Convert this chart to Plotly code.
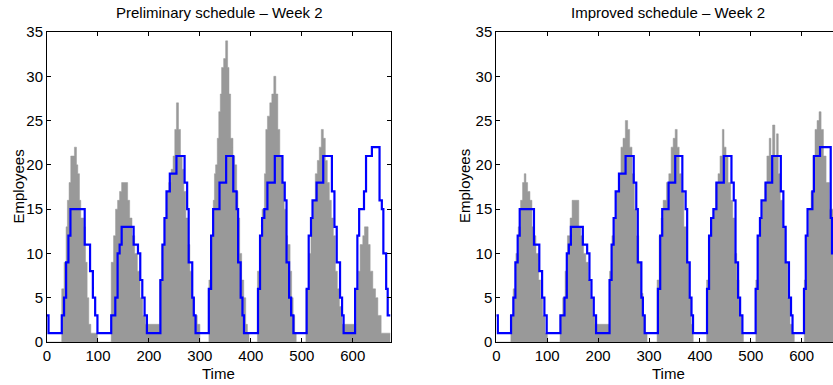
import plotly.graph_objects as go

# ---------------- data ----------------
# Demand (gray histogram), step start times and values — preliminary plot
dem1_t = [0,
          28.9, 33.5, 37.4, 40, 43.3, 46.6, 53.8, 57.8, 60.4, 63.7, 66.3, 72.2, 75.5, 78.8, 82, 86, 99,
          126, 130.6, 134.5, 138.5, 142.4, 146.4, 158.2, 162.2, 166.8, 172, 177.3, 182.5, 187.8, 193,
          221.2, 225.7, 230.3, 234.3, 238.9, 243.5, 247.4, 250.7, 254, 258, 261.9, 265.2, 268.5, 272.4,
          276.4, 280.3, 284.9, 289.5, 294.8, 300,
          317.7, 322.3, 326.2, 328.5, 330.8, 334.1, 337, 340, 342.6, 346.6, 350.5, 354.4, 357.1, 360.3,
          364.9, 368.2, 372.2, 374.8, 378.1, 382, 386, 389.9, 393.2, 396.4,
          412.9, 418.1, 422, 426.6, 429.3, 432.5, 437.1, 441.1, 445, 449, 452.9, 456.8, 460.8, 465.4,
          469, 472, 477, 480, 483, 486, 489,
          508, 513.3, 517.9, 522.5, 526.4, 530.4, 534.3, 538.2, 542.2, 546.1, 550, 554, 557.9, 561.9,
          565.8, 569.7, 573.7, 578.9,
          606.5, 611.1, 614.4, 619.6, 622.9, 630.1, 634.1, 639.3, 644.6, 649.2, 655.7, 674]
dem1_v = [0,
          6, 9, 13, 16, 18, 21, 22, 20, 19, 16, 14, 13, 9, 5, 2, 1, 0,
          9, 12, 15, 16, 17, 18, 16, 14, 12, 10, 8, 5, 3, 2,
          7, 11, 14, 17, 18, 19.5, 21, 24, 27, 24, 21, 19.5, 17, 14,
          11, 8, 5, 3, 2, 0,
          7, 12, 16, 19, 20, 23, 26, 28, 31, 32, 34, 31, 28, 23,
          21, 20, 17, 14, 10, 7, 5, 2, 1, 0,
          8, 12, 15, 19, 24, 25.5, 27, 28, 30, 28, 24, 21, 18, 15,
          12, 11, 8, 5, 3, 1, 0,
          6, 10, 14, 16, 19, 20.5, 22, 24, 23, 20.5, 18, 16, 14, 12,
          8, 6, 4, 2,
          6, 8, 11, 12, 13, 11, 8, 6, 5, 3, 1, 1]

# Demand — improved plot
dem2_t = [0,
          28.6, 33.2, 38.5, 43.1, 47.7, 51.6, 54.9, 58.2, 61.5, 66.1, 70, 74, 77.9, 83.2, 87.1, 91.1, 95.7, 100.3,
          125.2, 130.5, 135.1, 139.7, 145, 148.9, 162.1, 166, 171.3, 175.9, 180.5, 184.4, 189, 193.6,
          222.6, 227.2, 231.8, 235.7, 240.3, 244.9, 248.9, 253.5, 258.1, 262, 266.6, 271.2, 275.2, 279.8,
          284.4, 288.3, 292.9, 296.2,
          315.9, 319.9, 323.8, 327.8, 334.3, 338.9, 343.5, 347.5, 351.4, 355.4, 359.3, 363.3, 368.5, 373.8,
          378.4, 383, 386.9,
          413.2, 417.8, 422.4, 426.4, 431, 435.6, 439.5, 444.1, 447.4, 451.4, 455.3, 460.6, 464.5, 468.5,
          472.4, 477, 481.6, 485.5,
          509.9, 514.5, 518.4, 523, 527.6, 531.6, 536.2, 539.5, 542.8, 547.3, 550.6, 554, 557.9, 562.5,
          567.1, 572.3, 576.9, 582.2, 585.5,
          605.2, 609.8, 613.8, 618.4, 622.3, 626.2, 630.2, 634.1, 638.1, 642.7, 647.9, 654.5, 663.7, 667,
          670, 674]
dem2_v = [0,
          3, 6, 10, 13, 16, 18, 19, 18, 17, 16, 13, 12, 10, 7, 5, 3, 1, 0,
          3, 5, 8, 12, 14, 16, 13, 12, 10, 9, 7, 5, 3, 2,
          8, 12, 14, 17, 19, 22, 23, 25, 24, 22, 19, 15, 12, 9,
          5.5, 3, 1, 0,
          7, 12, 14, 16, 18, 19, 22, 23, 24, 22, 19, 17, 13, 9,
          5, 2, 0,
          7, 12, 14, 15, 18, 19, 21, 24, 22, 21, 18, 16, 14, 10,
          7, 3, 1, 0,
          7, 12, 14, 16, 18, 21, 23, 21, 24.5, 21, 23.5, 19, 16, 13,
          9, 5, 2, 1, 0,
          7, 12, 15, 17, 21, 24, 25, 26, 24, 21, 18, 15, 13, 9,
          5, 0]

# Schedule (blue step line), days 1-6 shared by both plots
sched_t = [0, 3, 29, 33.5, 37.5, 42, 46, 74, 84.5, 90, 94.5, 99,
           126, 134, 138.5, 142.5, 146.5, 170, 178.5, 183, 187, 191.5, 196,
           222.5, 226.5, 230.5, 234.5, 241, 254, 270, 275, 278, 285, 288, 291.5,
           317.5, 322, 326, 338.5, 351.5, 365.5, 372, 375, 380, 383.5, 386.5,
           414, 418, 422, 426.5, 432.5, 447, 462, 466.5, 470, 475, 479, 483.5,
           509.5, 513.5, 518, 521, 529, 542, 559, 564, 568.5, 575, 579, 582]
sched_v = [3, 1, 3, 5, 9, 12, 15, 11, 8, 5, 3, 1,
           3, 5, 10, 11, 13, 11, 10, 7, 5, 3, 1,
           7, 11, 14, 17, 19, 21, 18, 15, 9, 5, 3, 1,
           6, 12, 15, 18, 21, 17, 15, 9, 5, 3, 1,
           6, 12, 14, 15, 18, 21, 18, 16, 9, 5, 3, 1,
           6, 12, 14, 16, 18, 21, 17, 13, 9, 5, 3, 1]
# Day 7 of each schedule
tail1_t = [604.5, 609, 612.5, 622, 626, 637.5, 652.5, 657, 660, 665.5, 668.5, 674]
tail1_v = [6, 12, 15, 17, 21, 22, 16, 15, 10, 6, 3, 3]
tail2_t = [604.5, 608, 611.5, 621, 624, 636, 657, 659.5, 664, 668, 674]
tail2_v = [6, 12, 15, 17, 21, 22, 14, 10, 6, 3, 3]

titles = ["Preliminary schedule \u2013 Week 2", "Improved schedule \u2013 Week 2"]
x_ticks = [0, 100, 200, 300, 400, 500, 600]
y_ticks = [0, 5, 10, 15, 20, 25, 30, 35]

# ---------------- figure ----------------
GRAY = "#999999"
BLUE = "#0000FF"
FONT = "Liberation Sans, Arial, Helvetica, sans-serif"
FS = 15

fig = go.Figure()
for i, (dt, dv, tt, tv) in enumerate([(dem1_t, dem1_v, tail1_t, tail1_v),
                                      (dem2_t, dem2_v, tail2_t, tail2_v)]):
    xa = "x" if i == 0 else "x2"
    ya = "y" if i == 0 else "y2"
    fig.add_trace(go.Scatter(x=dt, y=dv, mode="lines",
                             line=dict(shape="hv", width=0.5, color=GRAY),
                             fill="tozeroy", fillcolor=GRAY,
                             xaxis=xa, yaxis=ya, hoverinfo="skip", showlegend=False))
    fig.add_trace(go.Scatter(x=sched_t + tt, y=sched_v + tv, mode="lines",
                             line=dict(shape="hv", width=2.2, color=BLUE),
                             xaxis=xa, yaxis=ya, showlegend=False))

W, H = 833, 385
ML, MR, MT, MB = 47, 0, 32, 43
pw = W - ML - MR
ph = H - MT - MB


def px2paper_x(px):
    return (px - ML) / pw


def py2paper_y(py):
    return (H - MB - py) / ph


axis_common = dict(showgrid=False, zeroline=False, showline=True, linecolor="black",
                   linewidth=1, ticks="inside", ticklen=4, tickcolor="black", tickwidth=1,
                   tickfont=dict(family=FONT, size=FS, color="black"))

left_dom = [0, px2paper_x(390.5)]
right_dom = [px2paper_x(496.3), 1]

fig.update_layout(
    width=W, height=H,
    margin=dict(l=ML, r=MR, t=MT, b=MB),
    paper_bgcolor="white", plot_bgcolor="white",
    font=dict(family=FONT, size=FS, color="black"),
    xaxis=dict(domain=left_dom, range=[0, 674], tickvals=x_ticks, mirror="ticks",
               anchor="y", **axis_common),
    yaxis=dict(domain=[0, 1], range=[0, 35], tickvals=y_ticks, mirror="ticks",
               anchor="x", **axis_common),
    xaxis2=dict(domain=right_dom, range=[0, 661.5], tickvals=x_ticks, mirror="ticks",
                anchor="y2", **axis_common),
    yaxis2=dict(domain=[0, 1], range=[0, 35], tickvals=y_ticks, mirror=False,
                anchor="x2", **axis_common),
)

cx1 = px2paper_x(218.7)
cx2 = px2paper_x(668)
ann = []
for cx, t in [(cx1, titles[0]), (cx2, titles[1])]:
    ann.append(dict(text=t, x=cx, y=py2paper_y(12), xref="paper", yref="paper",
                    xanchor="center", yanchor="middle", showarrow=False,
                    font=dict(family=FONT, size=FS, color="black")))
    ann.append(dict(text="Time", x=cx, y=py2paper_y(373), xref="paper", yref="paper",
                    xanchor="center", yanchor="middle", showarrow=False,
                    font=dict(family=FONT, size=FS, color="black")))
for ex in [17.5, 464]:
    ann.append(dict(text="Employees", x=px2paper_x(ex), y=py2paper_y(186), xref="paper",
                    yref="paper", xanchor="center", yanchor="middle", textangle=-90,
                    showarrow=False, font=dict(family=FONT, size=FS, color="black")))
fig.update_layout(annotations=ann)

fig.write_html("out.html",
               config={"displayModeBar": False},
               post_script="document.body.style.margin='0';document.body.style.overflow='hidden';")
